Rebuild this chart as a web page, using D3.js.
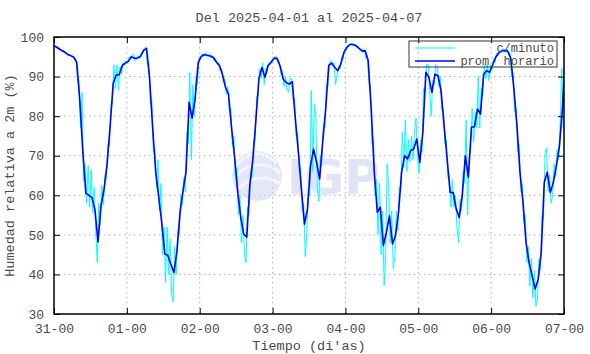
<!DOCTYPE html>
<html>
<head>
<meta charset="utf-8">
<script src="https://cdn.jsdelivr.net/npm/d3@7"></script>
<style>
  html, body { margin: 0; padding: 0; background: #fff; }
  svg text { font-family: "Liberation Mono", "DejaVu Sans Mono", monospace; fill: #4a4a4a; }
</style>
</head>
<body>
<svg id="chart" width="590" height="354"></svg>
<script>
// ---- data ----
const titulo = "Del 2025-04-01 al 2025-04-07";
const etiquetaX = "Tiempo (di'as)";
const etiquetaY = "Humedad relativa a 2m (%)";
const leyenda = ["c/minuto", "prom. horario"];
const inicioEje = "2025-03-31T00:00:00Z";
const finEje = "2025-04-07T00:00:00Z";
const ticksY = [30, 40, 50, 60, 70, 80, 90, 100];

// hourly mean, first value centred at 2025-03-30 23:30, then every hour
const inicioHorario = "2025-03-30T23:30:00Z";
const promHorario = [
  97.7,
  97.6, 97.1, 96.6, 96.2, 95.6, 95.3, 94.9, 93.5, 84.0, 71.0, 60.5, 60.0,
  59.4, 56.3, 48.2, 57.4, 61.5, 68.0, 77.5, 88.3, 90.4, 90.5, 92.8, 93.4,
  93.9, 95.0, 94.6, 94.7, 95.1, 96.6, 97.1, 89.5, 77.0, 66.0, 59.5, 53.0,
  45.2, 44.8, 42.6, 40.5, 45.8, 55.5, 61.2, 66.0, 83.5, 79.5, 84.5, 93.5,
  95.1, 95.5, 95.4, 95.2, 94.8, 93.7, 92.8, 90.5, 87.3, 85.5, 77.0, 69.5,
  61.0, 54.5, 50.2, 49.4, 62.5, 69.0, 79.0, 89.5, 92.3, 89.8, 92.8, 93.6,
  94.6, 94.6, 92.6, 89.4, 88.5, 88.1, 88.7, 79.3, 70.9, 61.6, 52.7, 56.5,
  67.5, 71.7, 68.3, 64.1, 73.4, 81.8, 92.8, 93.4, 92.3, 91.5, 93.2, 96.1,
  97.4, 98.1, 98.1, 97.8, 97.1, 96.5, 96.5, 94.0, 81.8, 66.0, 55.7, 57.0,
  47.3, 50.6, 54.8, 47.7, 49.8, 55.7, 65.8, 70.0, 69.2, 71.3, 71.7, 74.2,
  68.3, 75.9, 91.1, 89.8, 86.0, 90.6, 90.2, 86.4, 77.6, 69.2, 60.7, 60.7,
  56.5, 54.4, 60.0, 70.0, 64.5, 77.2, 77.3, 81.8, 80.5, 90.5, 91.5, 91.1,
  93.0, 94.9, 96.0, 96.5, 96.6, 96.4, 94.5, 86.9, 77.6, 65.8, 58.2, 48.1,
  43.0, 39.7, 36.3, 38.8, 45.6, 63.3, 65.8, 60.7, 63.3, 67.5, 72.5, 82.0,
  97.0
];

// per-minute data, summarised as the highest / lowest reading in each hour
const inicioMinuto = "2025-03-31T00:00:00Z";
const minutoMax = [
  98.0, 97.6, 97.0, 96.6, 96.0, 95.6, 95.2, 94.6, 89.0, 86.0, 68.0, 67.5,
  66.5, 62.0, 58.0, 62.5, 65.0, 73.0, 83.0, 93.0, 93.0, 92.5, 93.5, 94.0,
  95.0, 95.6, 95.6, 95.3, 96.0, 97.2, 97.5, 93.5, 84.0, 72.0, 69.0, 63.0,
  52.0, 52.0, 49.0, 47.0, 51.0, 60.0, 64.5, 76.0, 91.0, 88.0, 90.0, 95.0,
  95.8, 96.0, 95.9, 95.7, 95.3, 94.4, 93.5, 92.0, 89.5, 87.5, 82.0, 75.0,
  67.0, 60.0, 55.0, 57.0, 66.0, 74.0, 85.0, 92.0, 93.5, 92.0, 93.5, 94.2,
  95.0, 95.0, 93.8, 91.5, 90.0, 89.5, 89.5, 84.5, 76.0, 67.0, 58.0, 62.0,
  86.5, 83.0, 80.0, 70.0, 78.0, 88.0, 93.5, 94.0, 93.5, 92.5, 95.0, 97.0,
  98.0, 98.4, 98.4, 98.1, 97.6, 97.0, 97.0, 95.5, 88.0, 74.0, 64.0, 63.0,
  56.0, 68.0, 62.0, 56.0, 56.0, 62.0, 76.0, 79.0, 74.0, 75.0, 76.0, 79.5,
  74.0, 87.0, 93.0, 93.0, 89.0, 93.0, 92.5, 90.0, 82.0, 74.0, 65.0, 64.0,
  60.0, 59.0, 66.0, 79.0, 70.0, 82.0, 81.0, 90.0, 87.0, 93.0, 93.0, 93.0,
  94.5, 95.8, 96.6, 97.0, 97.0, 97.0, 96.0, 91.0, 82.0, 73.0, 63.0, 55.0,
  47.0, 44.0, 41.0, 44.0, 55.0, 70.5, 72.0, 65.0, 68.0, 71.5, 78.0, 92.0
];
const minutoMin = [
  97.3, 96.8, 96.3, 95.8, 95.3, 95.0, 94.3, 88.5, 77.0, 63.5, 58.0, 57.0,
  55.5, 51.0, 43.0, 52.5, 57.5, 64.0, 72.5, 83.0, 87.0, 86.5, 90.5, 92.8,
  93.3, 94.3, 94.0, 94.2, 94.6, 95.8, 93.0, 83.0, 71.0, 62.0, 56.0, 45.0,
  38.0, 40.0, 35.0, 33.0, 40.0, 50.0, 57.5, 61.0, 73.0, 69.0, 80.0, 88.0,
  94.3, 95.0, 94.9, 94.7, 94.0, 93.0, 91.5, 88.5, 85.5, 81.0, 72.5, 64.0,
  55.0, 48.0, 45.0, 43.0, 55.0, 64.5, 73.5, 85.0, 89.5, 88.0, 91.0, 93.0,
  94.0, 93.5, 90.5, 87.5, 86.5, 86.0, 84.0, 75.0, 66.0, 56.0, 44.5, 50.0,
  60.0, 66.0, 62.0, 58.5, 68.5, 77.0, 87.5, 92.5, 88.0, 90.5, 92.0, 94.5,
  96.6, 97.8, 97.7, 97.3, 96.7, 96.0, 94.5, 88.0, 73.0, 60.0, 50.0, 45.0,
  37.2, 44.0, 48.0, 41.5, 44.0, 51.0, 61.0, 67.0, 66.0, 68.5, 69.0, 70.0,
  65.5, 71.0, 86.0, 86.5, 80.0, 88.0, 87.5, 81.5, 73.0, 64.5, 57.0, 57.0,
  52.0, 48.0, 56.0, 63.0, 55.0, 71.0, 73.5, 77.0, 77.0, 85.0, 89.5, 89.0,
  91.5, 93.5, 95.2, 96.0, 96.0, 95.5, 90.0, 81.0, 71.0, 61.0, 53.0, 43.0,
  37.0, 34.0, 32.0, 33.5, 41.0, 54.0, 61.0, 58.0, 60.0, 64.5, 69.0, 77.0
];

// ---- layout ----
const W = 590, H = 354;
const margin = { top: 37, right: 26, bottom: 40, left: 54 };
const width = W - margin.left - margin.right;
const height = H - margin.top - margin.bottom;
const HORA = 3600 * 1000;

const svg = d3.select("#chart");
const g = svg.append("g").attr("transform", `translate(${margin.left},${margin.top})`);

const x = d3.scaleUtc()
  .domain([new Date(inicioEje), new Date(finEje)])
  .range([0, width]);
const y = d3.scaleLinear().domain([30, 100]).range([height, 0]);

const diasTicks = x.ticks(d3.utcDay.every(1));

// dotted grid
g.append("g").selectAll("line")
  .data(ticksY.slice(1, -1))
  .join("line")
  .attr("x1", 0).attr("x2", width)
  .attr("y1", (d) => y(d)).attr("y2", (d) => y(d))
  .attr("stroke", "#b0b0b0").attr("stroke-width", 1)
  .attr("stroke-dasharray", "1.5,3.5");
g.append("g").selectAll("line")
  .data(diasTicks.slice(1, -1))
  .join("line")
  .attr("x1", (d) => x(d)).attr("x2", (d) => x(d))
  .attr("y1", 0).attr("y2", height)
  .attr("stroke", "#b0b0b0").attr("stroke-width", 1)
  .attr("stroke-dasharray", "1.5,3.5");

// faint watermark
const marca = g.append("g").attr("opacity", 0.55);
marca.append("circle").attr("cx", 203).attr("cy", 139).attr("r", 25).attr("fill", "#cfd4f2");
marca.append("path")
  .attr("d", "M181,132 A24,24 0 0 1 222,126 M180,142 A30,30 0 0 1 226,136 M185,152 A30,30 0 0 1 226,147")
  .attr("fill", "none").attr("stroke", "#eef0fb").attr("stroke-width", 3);
marca.append("text")
  .attr("x", 233).attr("y", 157)
  .style("font-family", "'DejaVu Sans', sans-serif")
  .style("font-weight", "bold").style("font-size", "48px")
  .style("fill", "#c9cdf0")
  .text("IGP");

// clip to plot box
svg.append("defs").append("clipPath").attr("id", "caja")
  .append("rect").attr("width", width).attr("height", height);

const datos = g.append("g").attr("clip-path", "url(#caja)");

// per-minute band as a zigzag through each hour's extremes
const t0m = new Date(inicioMinuto).getTime();
const puntosMinuto = [];
minutoMax.forEach((hi, k) => {
  const lo = minutoMin[k];
  const sube = k > 0 && k < minutoMax.length - 1
    ? promHorario[k + 2] > promHorario[k] : false;
  const a = sube ? lo : hi, b = sube ? hi : lo;
  puntosMinuto.push({ t: new Date(t0m + (k + 0.25) * HORA), v: a });
  puntosMinuto.push({ t: new Date(t0m + (k + 0.75) * HORA), v: b });
});

const linea = d3.line().x((d) => x(d.t)).y((d) => y(d.v));

datos.append("path")
  .datum(puntosMinuto)
  .attr("fill", "none")
  .attr("stroke", "#00ffff")
  .attr("stroke-width", 1)
  .attr("d", linea);

const t0h = new Date(inicioHorario).getTime();
const puntosHora = promHorario.map((v, i) => ({ t: new Date(t0h + i * HORA), v }));

datos.append("path")
  .datum(puntosHora)
  .attr("fill", "none")
  .attr("stroke", "#0000ff")
  .attr("stroke-width", 1.6)
  .attr("stroke-linejoin", "round")
  .attr("d", linea);

// axes with inward ticks on all four sides
const fmt = d3.utcFormat("%d-%H");
const ejeX = g.append("g")
  .attr("transform", `translate(0,${height})`)
  .call(d3.axisBottom(x).tickValues(diasTicks).tickFormat(fmt).tickSize(-6).tickPadding(10));
const ejeXsup = g.append("g")
  .call(d3.axisTop(x).tickValues(diasTicks).tickFormat("").tickSize(-6));
const ejeY = g.append("g")
  .call(d3.axisLeft(y).tickValues(ticksY).tickSize(-6).tickPadding(10));
const ejeYder = g.append("g")
  .attr("transform", `translate(${width},0)`)
  .call(d3.axisRight(y).tickValues(ticksY).tickFormat("").tickSize(-6));

[ejeX, ejeXsup, ejeY, ejeYder].forEach((e) => {
  e.select(".domain").remove();
  e.selectAll(".tick line").attr("stroke", "#000").attr("stroke-width", 1);
  e.selectAll("text").style("font-size", "13px").attr("fill", "#4a4a4a");
});

g.append("rect")
  .attr("width", width).attr("height", height)
  .attr("fill", "none").attr("stroke", "#000").attr("stroke-width", 1.5);

// legend
const ley = g.append("g").attr("transform", `translate(${355},${4})`);
ley.append("rect").attr("width", 148).attr("height", 26)
  .attr("fill", "none").attr("stroke", "#333").attr("stroke-width", 1);
const colores = ["#00ffff", "#0000ff"];
leyenda.forEach((nombre, i) => {
  ley.append("line")
    .attr("x1", 6).attr("x2", 46)
    .attr("y1", 7 + i * 13).attr("y2", 7 + i * 13)
    .attr("stroke", colores[i]).attr("stroke-width", i ? 1.6 : 1);
  ley.append("text")
    .attr("x", 145).attr("y", 11 + i * 13)
    .attr("text-anchor", "end")
    .style("font-size", "12px")
    .text(nombre);
});

// titles
svg.append("text")
  .attr("x", margin.left + width / 2).attr("y", 22)
  .attr("text-anchor", "middle").style("font-size", "13.5px")
  .text(titulo);
svg.append("text")
  .attr("x", margin.left + width / 2).attr("y", 350)
  .attr("text-anchor", "middle").style("font-size", "13.5px")
  .text(etiquetaX);
svg.append("text")
  .attr("transform", `translate(14,${margin.top + height / 2}) rotate(-90)`)
  .attr("text-anchor", "middle").style("font-size", "13.5px")
  .text(etiquetaY);
</script>
</body>
</html>
